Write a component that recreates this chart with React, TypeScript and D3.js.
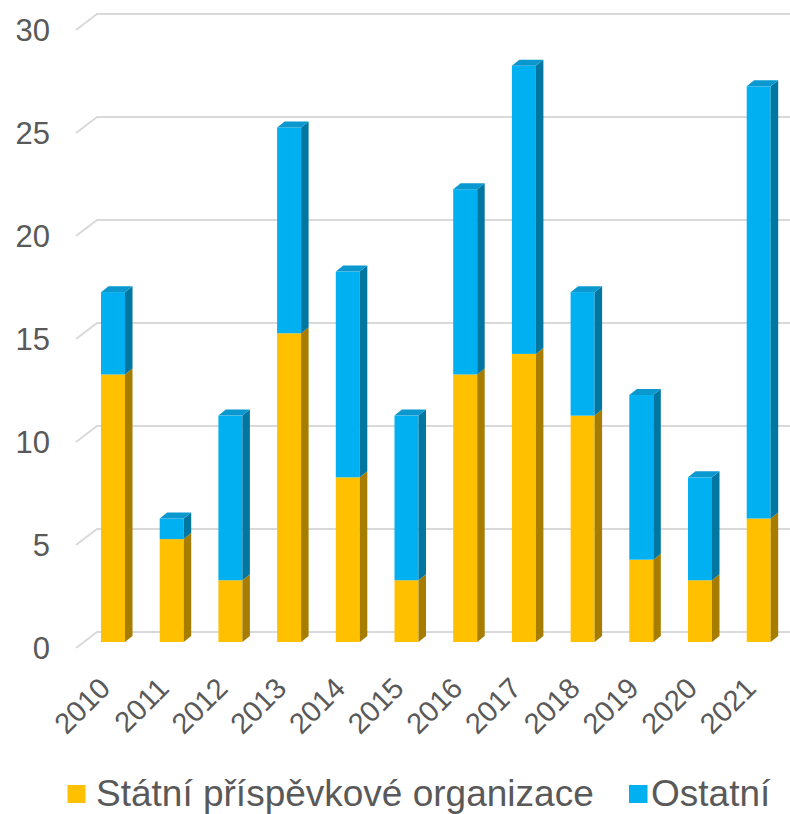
import React from "react";
import * as d3 from "d3";

const years = ["2010","2011","2012","2013","2014","2015","2016","2017","2018","2019","2020","2021"];
const statni = [13, 5, 3, 15, 8, 3, 13, 14, 11, 4, 3, 6];
const ostatni = [4, 1, 8, 10, 10, 8, 9, 14, 6, 8, 5, 21];
const yTicks = [0, 5, 10, 15, 20, 25, 30];
const seriesNames = ["Státní příspěvkové organizace", "Ostatní"];

const ORANGE = "#FFC000", ORANGE_SIDE = "#A67D00", ORANGE_TOP = "#E6AD00";
const BLUE = "#00B0F0", BLUE_SIDE = "#0076A1", BLUE_TOP = "#0A98CF";
const TXT = "#595959";
const FONT = "'Liberation Sans', Arial, sans-serif";

export default function App() {
  const W = 790, H = 814;
  const step = 58.7, bw = 24;
  const pad = 1 - bw / step;
  const x = d3.scaleBand<string>().domain(years).range([101 - step * pad / 2, 101 - step * pad / 2 + step * years.length]).paddingInner(pad).paddingOuter(pad / 2);
  const yFront = d3.scaleLinear().domain([0, 30]).range([642, 642 - 30 * 20.58]);
  const yWall = d3.scaleLinear().domain([0, 30]).range([632, 14]);
  const yLab = d3.scaleLinear().domain([0, 30]).range([648, 30]);
  const dx = 7.5, dy = -6;
  const wallX = 97, frontX = 76;

  const seg = (i: number, v0: number, v1: number, front: string, side: string, top: string | null, key: string) => {
    const x0 = x(years[i])!;
    const x1 = x0 + x.bandwidth();
    const yb = yFront(v0), yt = yFront(v1);
    return (
      <g key={key}>
        <rect x={x0} y={yt} width={x1 - x0} height={yb - yt} fill={front} />
        <path d={`M${x1},${yb}L${x1 + dx},${yb + dy}L${x1 + dx},${yt + dy}L${x1},${yt}Z`} fill={side} />
        {top && <path d={`M${x0},${yt}L${x0 + dx},${yt + dy}L${x1 + dx},${yt + dy}L${x1},${yt}Z`} fill={top} />}
      </g>
    );
  };

  return (
    <svg width={W} height={H} style={{ position: "absolute", left: 0, top: 0, background: "#fff" }} fontFamily={FONT}>
      {yTicks.map((t) => (
        <g key={"g" + t}>
          <path d={`M${frontX},${yLab(t)}L${wallX},${yWall(t)}L${W},${yWall(t)}`} fill="none" stroke="#D9D9D9" strokeWidth={2} />
          <text x={50} y={yLab(t)} dy="0.36em" textAnchor="end" fontSize={31} fill={TXT}>{t}</text>
        </g>
      ))}
      {years.map((yr, i) => (
        <g key={yr}>
          {seg(i, 0, statni[i], ORANGE, ORANGE_SIDE, ostatni[i] > 0 ? null : ORANGE_TOP, "a" + i)}
          {seg(i, statni[i], statni[i] + ostatni[i], BLUE, BLUE_SIDE, BLUE_TOP, "b" + i)}
        </g>
      ))}
      {years.map((yr) => {
        const cx = x(yr)! + x.bandwidth() / 2 - 1;
        return (
          <text key={"l" + yr} transform={`translate(${cx},690) rotate(-45)`} textAnchor="end" fontSize={29} fill={TXT}>{yr}</text>
        );
      })}
      <rect x={67.5} y={785} width={18} height={18} fill={ORANGE} />
      <text x={96} y={806} fontSize={37} fill={TXT}>{seriesNames[0]}</text>
      <rect x={629} y={785} width={18.5} height={18} fill={BLUE} />
      <text x={651} y={806} fontSize={37} fill={TXT}>{seriesNames[1]}</text>
    </svg>
  );
}
